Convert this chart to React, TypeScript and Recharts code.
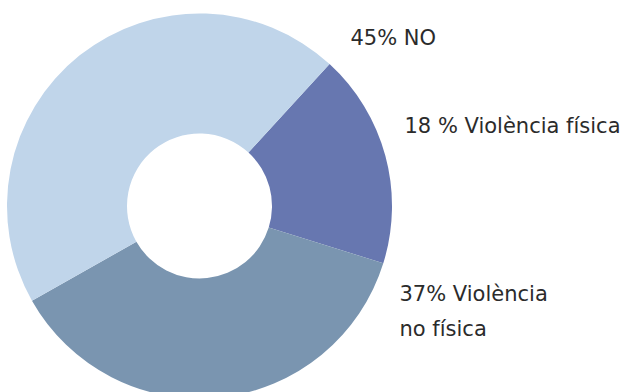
import { PieChart, Pie, Cell } from 'recharts'

// slices, clockwise from the upper right
const categories = ['Violència física', 'Violència no física', 'NO']
const values = [18, 37, 45]
const labelLines = [
  ['18 % Violència física'],
  ['37% Violència', 'no física'],
  ['45% NO'],
]

const colors = ['#6777b0', '#7a95b0', '#c0d5ea']
// label anchor (left, first baseline) relative to the pie centre
const labelOffsets = [
  { dx: 205, dy: -73 },
  { dx: 200, dy: 95 },
  { dx: 151, dy: -161 },
]

const data = categories.map((name, i) => ({ name, value: values[i] }))

const CX = 199.5
const CY = 206

export default function App() {
  return (
    <div style={{ width: 628, height: 392, background: '#fff' }}>
      <style>{'body{margin:0}'}</style>
      <PieChart width={628} height={392} margin={{ top: 0, right: 0, bottom: 0, left: 0 }}>
        <Pie
          data={data}
          dataKey="value"
          nameKey="name"
          cx={CX}
          cy={CY}
          innerRadius={72.5}
          outerRadius={192.5}
          startAngle={47.5}
          endAngle={-312.5}
          stroke="none"
          labelLine={false}
          isAnimationActive={false}
          label={(props: any) => {
            const i = props.index
            const off = labelOffsets[i]
            return (
              <text
                key={i}
                x={props.cx + off.dx}
                y={props.cy + off.dy}
                fill="#2b2b2b"
                fontFamily="DejaVu Sans"
                fontSize={21}
              >
                {labelLines[i].map((line, j) => (
                  <tspan key={j} x={props.cx + off.dx} dy={j === 0 ? 0 : 35}>
                    {line}
                  </tspan>
                ))}
              </text>
            )
          }}
        >
          {data.map((d, i) => (
            <Cell key={d.name} fill={colors[i]} />
          ))}
        </Pie>
      </PieChart>
    </div>
  )
}
